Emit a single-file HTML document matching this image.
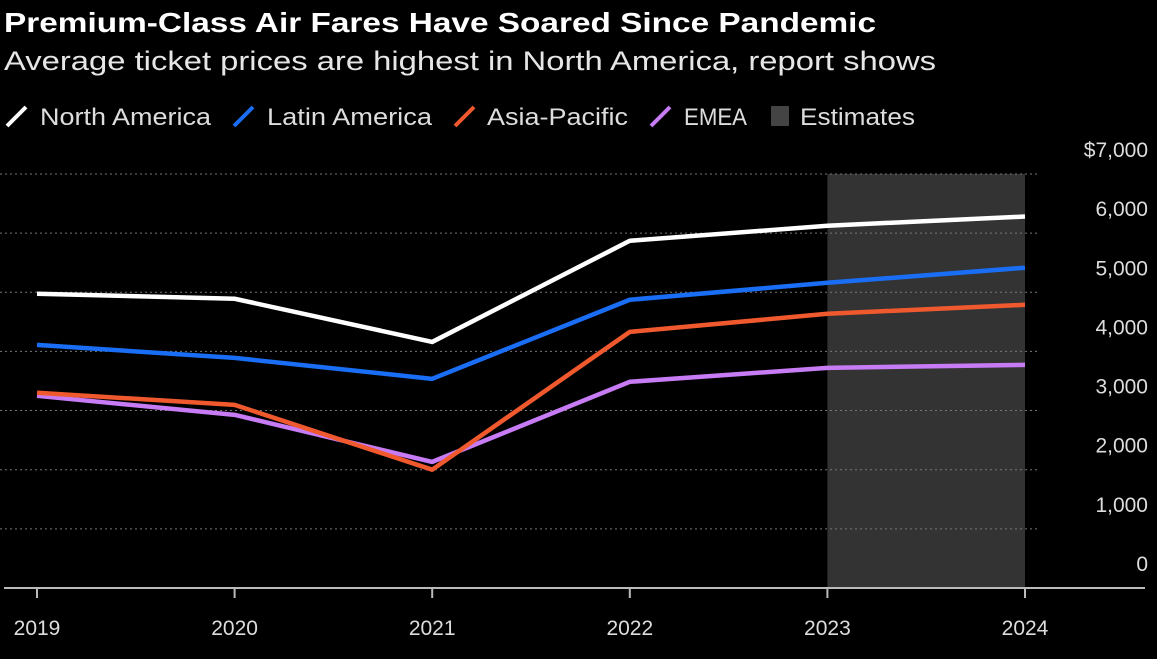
<!DOCTYPE html>
<html><head><meta charset="utf-8"><style>
body{margin:0;background:#000;width:1157px;height:659px;overflow:hidden;font-family:"Liberation Sans",sans-serif;}
svg{display:block}
</style></head><body>
<svg id="c" width="1157" height="659">
<text x="4" y="32" fill="#fff" font-size="28" font-weight="bold" textLength="872" lengthAdjust="spacingAndGlyphs">Premium-Class Air Fares Have Soared Since Pandemic</text>
<text x="4" y="70" fill="#e6e6e6" font-size="27" textLength="932" lengthAdjust="spacingAndGlyphs">Average ticket prices are highest in North America, report shows</text>
<g id="legend"></g>
<g id="plot"></g>
</svg>
<script>
const years=["2019","2020","2021","2022","2023","2024"];
const northAmerica=[4975,4890,4160,5870,6125,6280];
const latinAmerica=[4110,3890,3536,4873,5160,5415];
const asiaPacific=[3300,3096,2000,4330,4636,4788];
const emea=[3249,2927,2132,3486,3722,3773];
const yTicks=[0,1000,2000,3000,4000,5000,6000,7000];
const estimateStart="2023", estimateEnd="2024";
const NS="http://www.w3.org/2000/svg";
const x=i=>37+i*197.6;
const y=v=>588-v*59.15/1000;
const plot=document.getElementById('plot');
function mk(tag,attrs,parent){const e=document.createElementNS(NS,tag);for(const k in attrs)e.setAttribute(k,attrs[k]);(parent||plot).appendChild(e);return e;}
const band=mk('rect',{x:x(years.indexOf(estimateStart)),y:y(7000),width:x(years.indexOf(estimateEnd))-x(years.indexOf(estimateStart)),height:y(0)-y(7000),fill:'#333'});


yTicks.forEach(t=>{
  if(t>0){const g=mk('line',{x1:0,x2:1040,y1:y(t),y2:y(t),stroke:'#777','stroke-dasharray':'2,3','stroke-width':1});
  
  }
  const l=mk('text',{x:1148,y:y(t)-17,fill:'#ddd','font-size':21,'text-anchor':'end'});
  l.textContent=t===7000?'$7,000':t.toLocaleString('en-US');
  
  
});
const ax=mk('line',{x1:4,x2:1145,y1:588,y2:588,stroke:'#bbb','stroke-width':2});


years.forEach((yr,i)=>{
  mk('line',{x1:x(i),x2:x(i),y1:588,y2:598,stroke:'#bbb','stroke-width':2});
  const t=mk('text',{x:x(i),y:635,fill:'#ddd','font-size':21,'text-anchor':'middle'});
  t.textContent=yr;
  
  
});
const series=[["north-america",northAmerica,"#ffffff","North America"],["latin-america",latinAmerica,"#1a6ef5","Latin America"],["asia-pacific",asiaPacific,"#f0592e","Asia-Pacific"],["emea",emea,"#c77bf5","EMEA"]];
[3,2,1,0].forEach(k=>{const s=series[k];
  const p=mk('polyline',{points:s[1].map((v,i)=>x(i)+','+y(v)).join(' '),fill:'none',stroke:s[2],'stroke-width':4.5,'stroke-linejoin':'round'});
  
  
});
const lg=document.getElementById('legend');
const lx=[7,234,455,651,771];
const textX=[40,267,487,684];
const textW=[171,165,141,63];
series.forEach((s,i)=>{
  mk('line',{x1:lx[i],y1:126,x2:lx[i]+19,y2:107,stroke:s[2],'stroke-width':4},lg);
  const t=mk('text',{x:textX[i],y:125,fill:'#ddd','font-size':24,textLength:textW[i],lengthAdjust:'spacingAndGlyphs'},lg);
  t.textContent=s[3];
  
  
});
mk('rect',{x:771,y:106,width:18,height:20,fill:'#444'},lg);
const et=mk('text',{x:800,y:125,fill:'#ddd','font-size':24,textLength:115,lengthAdjust:'spacingAndGlyphs'},lg);
et.textContent='Estimates';


</script>
</body></html>
